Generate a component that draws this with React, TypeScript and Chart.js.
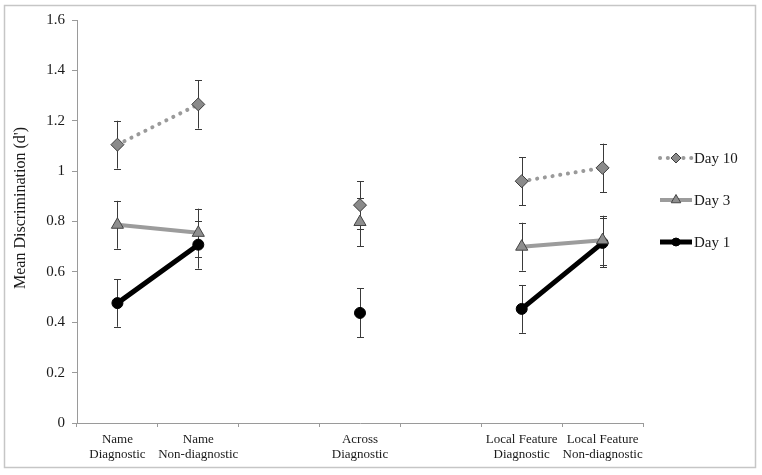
import React, { useEffect, useRef } from 'react';
import { Chart, registerables } from 'chart.js';

Chart.register(...registerables);

const categories: (string | string[])[] = [
  ['Name', 'Diagnostic'],
  ['Name', 'Non-diagnostic'],
  '',
  ['Across', 'Diagnostic'],
  '',
  ['Local Feature', 'Diagnostic'],
  ['Local Feature', 'Non-diagnostic'],
];

const seriesLabels = ['Day 10', 'Day 3', 'Day 1'];

const day10 = [1.105, 1.265, null, 0.865, null, 0.96, 1.013];
const day10Err = [0.095, 0.096, null, 0.095, null, 0.095, 0.096];
const day3 = [0.787, 0.755, null, 0.798, null, 0.7, 0.726];
const day3Err = [0.095, 0.096, null, 0.096, null, 0.095, 0.097];
const day1 = [0.476, 0.708, null, 0.437, null, 0.453, 0.715];
const day1Err = [0.094, 0.095, null, 0.097, null, 0.095, 0.097];

const yMin = 0;
const yMax = 1.6;
const yStep = 0.2;
const yTitle = "Mean Discrimination (d')";

const FONT = '"Liberation Serif", "Times New Roman", serif';
const TEXT = '#1a1a1a';
const AXIS = '#9a9a9a';

const errors = [day10Err, day3Err, day1Err];

const drawMarker = (ctx: CanvasRenderingContext2D, style: string, x: number, y: number, r: number, fill: string, stroke: string) => {
  ctx.save();
  ctx.beginPath();
  if (style === 'rectRot') {
    ctx.moveTo(x, y - r);
    ctx.lineTo(x + r, y);
    ctx.lineTo(x, y + r);
    ctx.lineTo(x - r, y);
    ctx.closePath();
  } else if (style === 'triangle') {
    ctx.moveTo(x, y - r);
    ctx.lineTo(x + r * 0.866, y + r * 0.5);
    ctx.lineTo(x - r * 0.866, y + r * 0.5);
    ctx.closePath();
  } else {
    ctx.arc(x, y, r, 0, Math.PI * 2);
  }
  ctx.fillStyle = fill;
  ctx.fill();
  ctx.lineWidth = 1;
  ctx.strokeStyle = stroke;
  ctx.stroke();
  ctx.restore();
};

const framePlugin = {
  id: 'frame',
  beforeDraw(chart: any) {
    const { ctx, width, height } = chart;
    ctx.save();
    ctx.fillStyle = '#ffffff';
    ctx.fillRect(0, 0, width, height);
    ctx.strokeStyle = '#c6c6c6';
    ctx.lineWidth = 1.5;
    ctx.strokeRect(4.5, 5.5, width - 11, height - 13);
    ctx.restore();
  },
};

const errorBarPlugin = {
  id: 'errorBars',
  beforeDatasetsDraw(chart: any) {
    const { ctx } = chart;
    const yScale = chart.scales.y;
    ctx.save();
    ctx.strokeStyle = '#3a3a3a';
    ctx.lineWidth = 1;
    chart.data.datasets.forEach((ds: any, i: number) => {
      const meta = chart.getDatasetMeta(i);
      const err = errors[i];
      meta.data.forEach((pt: any, j: number) => {
        const v = ds.data[j];
        const e = err[j];
        if (v == null || e == null) return;
        const x = Math.round(pt.x) + 0.5;
        const yt = yScale.getPixelForValue(v + e);
        const yb = yScale.getPixelForValue(v - e);
        ctx.beginPath();
        ctx.moveTo(x, yt);
        ctx.lineTo(x, yb);
        ctx.moveTo(x - 3.5, Math.round(yt) + 0.5);
        ctx.lineTo(x + 3.5, Math.round(yt) + 0.5);
        ctx.moveTo(x - 3.5, Math.round(yb) + 0.5);
        ctx.lineTo(x + 3.5, Math.round(yb) + 0.5);
        ctx.stroke();
      });
    });
    ctx.restore();
  },
};

const annotationPlugin = {
  id: 'annot',
  afterDraw(chart: any) {
    const { ctx, chartArea } = chart;
    ctx.save();
    ctx.translate(21, 208);
    ctx.rotate(-Math.PI / 2);
    ctx.font = `16px ${FONT}`;
    ctx.fillStyle = TEXT;
    ctx.textAlign = 'center';
    ctx.textBaseline = 'middle';
    ctx.fillText(yTitle, 0, 0);
    ctx.restore();

    const x0 = chartArea.right + 17;
    const lw = 32;
    const startY = 158;
    const gap = 42;
    chart.data.datasets.forEach((ds: any, i: number) => {
      const y = startY + gap * i;
      ctx.save();
      ctx.beginPath();
      ctx.strokeStyle = ds.borderColor;
      ctx.lineWidth = ds.borderWidth;
      ctx.lineCap = ds.borderCapStyle || 'butt';
      ctx.setLineDash(ds.borderDash || []);
      ctx.moveTo(x0, y);
      ctx.lineTo(x0 + lw, y);
      ctx.stroke();
      ctx.restore();
      drawMarker(ctx, ds.pointStyle, x0 + lw / 2, y, ds.pointRadius - 1.5, ds.pointBackgroundColor, ds.pointBorderColor);
      ctx.save();
      ctx.font = `15px ${FONT}`;
      ctx.fillStyle = TEXT;
      ctx.textAlign = 'left';
      ctx.textBaseline = 'middle';
      ctx.fillText(ds.label, x0 + lw + 2, y + 1);
      ctx.restore();
    });
  },
};

export default function App() {
  const ref = useRef<HTMLCanvasElement | null>(null);

  useEffect(() => {
    if (!ref.current) return;
    const chart = new Chart(ref.current, {
      type: 'line',
      data: {
        labels: categories,
        datasets: [
          {
            label: seriesLabels[0],
            data: day10,
            borderColor: '#9a9a9a',
            borderWidth: 4,
            borderDash: [0.1, 7.7],
            borderCapStyle: 'round',
            pointStyle: 'rectRot',
            pointRadius: 6.5,
            pointBackgroundColor: '#8a8a8a',
            pointBorderColor: '#3c3c3c',
            pointBorderWidth: 1,
            spanGaps: false,
          },
          {
            label: seriesLabels[1],
            data: day3,
            borderColor: '#9c9c9c',
            borderWidth: 4,
            pointStyle: 'triangle',
            pointRadius: 7,
            pointBackgroundColor: '#8e8e8e',
            pointBorderColor: '#444444',
            pointBorderWidth: 1,
            spanGaps: false,
          },
          {
            label: seriesLabels[2],
            data: day1,
            borderColor: '#000000',
            borderWidth: 5,
            pointStyle: 'circle',
            pointRadius: 5.5,
            pointBackgroundColor: '#000000',
            pointBorderColor: '#000000',
            pointBorderWidth: 1,
            spanGaps: false,
          },
        ],
      } as any,
      options: {
        responsive: false,
        animation: false,
        layout: { padding: { left: 0, right: 119, top: 20, bottom: 0 } },
        plugins: {
          legend: { display: false },
          tooltip: { enabled: false },
        },
        scales: {
          x: {
            type: 'category',
            offset: true,
            grid: {
              offset: true,
              drawOnChartArea: false,
              drawTicks: true,
              tickLength: 4,
              color: AXIS,
            },
            border: { display: true, color: AXIS, width: 1 },
            ticks: {
              font: { family: FONT, size: 13, lineHeight: 1.15 },
              color: TEXT,
              padding: 5,
              maxRotation: 0,
              minRotation: 0,
              autoSkip: false,
            },
            afterFit: (s: any) => {
              s.height = 52;
            },
          },
          y: {
            min: yMin,
            max: yMax,
            grid: {
              drawOnChartArea: false,
              drawTicks: true,
              tickLength: 5,
              color: AXIS,
            },
            border: { display: true, color: AXIS, width: 1 },
            ticks: {
              stepSize: yStep,
              font: { family: FONT, size: 15 },
              color: TEXT,
              padding: 7,
              callback: (v: any) => String(Number(Number(v).toFixed(1))),
            },
            afterFit: (s: any) => {
              s.width = 77;
            },
          },
        },
      } as any,
      plugins: [framePlugin, errorBarPlugin, annotationPlugin],
    });
    return () => chart.destroy();
  }, []);

  return (
    <div style={{ position: 'absolute', left: 0, top: 0, width: 762, height: 475 }}>
      <canvas ref={ref} width={762} height={475} style={{ display: 'block' }} />
    </div>
  );
}
